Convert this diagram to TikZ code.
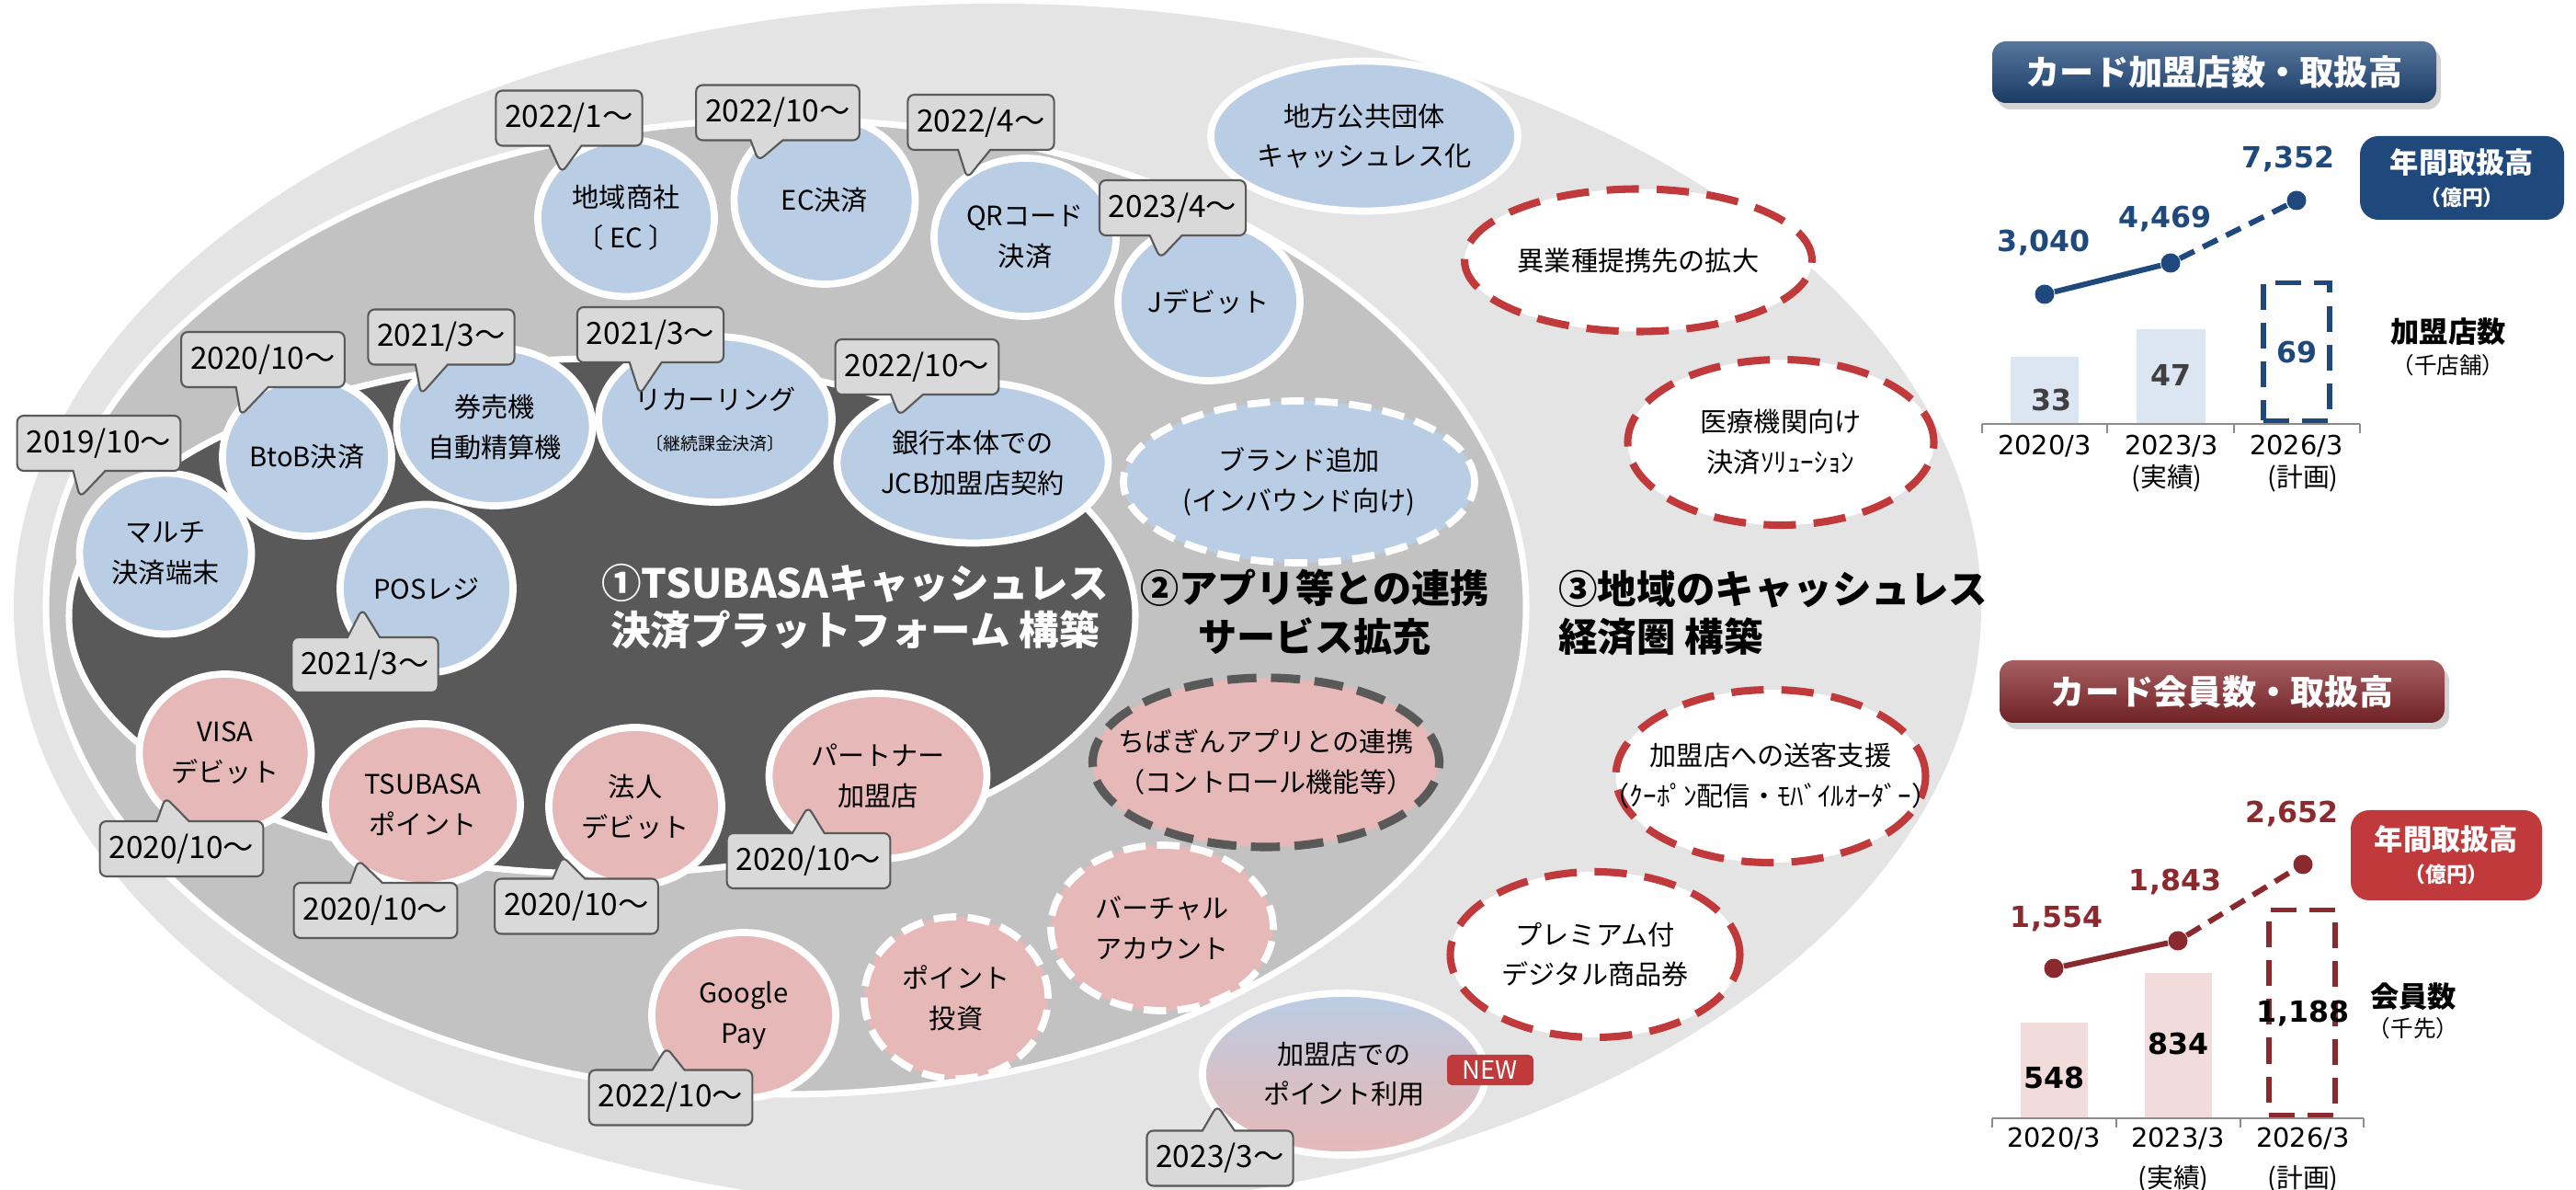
\documentclass[tikz,border=0pt]{standalone}
\usepackage{fontspec}
\setmainfont{Noto Sans CJK JP}
\newfontfamily\numfont{DejaVu Sans}
\usetikzlibrary{shapes.geometric,shapes.callouts,shadows}
\definecolor{ringlight}{HTML}{E4E4E4}
\definecolor{ringmid}{HTML}{C2C2C2}
\definecolor{ringdark}{HTML}{595959}
\definecolor{bubblue}{HTML}{B9CDE5}
\definecolor{bubpink}{HTML}{E6B9B8}
\definecolor{tagfill}{HTML}{D9D9D9}
\definecolor{tagline}{HTML}{595959}
\definecolor{zonered}{HTML}{C0393B}
\definecolor{chartblue}{HTML}{1F497D}
\definecolor{chartred}{HTML}{8B2A2E}
\definecolor{barblue}{HTML}{DCE6F2}
\definecolor{barpink}{HTML}{F2DCDB}
\definecolor{valgrey}{HTML}{404040}

\begin{document}
\begin{tikzpicture}[
  bubble/.style={ellipse,draw=white,line width=2.2pt,inner sep=0pt},
  bluebub/.style={bubble,fill=bubblue},
  pinkbub/.style={bubble,fill=bubpink},
  gapdash/.style={dash pattern=on 7pt off 3.5pt},
  zonebub/.style={ellipse,draw=zonered,fill=white,line width=2.3pt,
    dash pattern=on 10pt off 5.5pt,inner sep=0pt},
  bubtext/.style={align=center,font=\fontsize{8.3}{12.5}\selectfont,text=black},
  datetag/.style={rectangle callout,draw=tagline,fill=tagfill,line width=0.6pt,
    rounded corners=2pt,inner xsep=0.1cm,minimum height=0.6cm,
    callout pointer width=0.35cm,font=\fontsize{9.5}{11}\selectfont},
  headline/.style={font=\fontsize{12.4}{14.5}\selectfont\bfseries},
  charthead/.style={rounded corners=0.15cm,text=white,
    font=\fontsize{10.6}{12}\selectfont\bfseries,
    drop shadow={shadow xshift=0.05cm,shadow yshift=-0.07cm,opacity=0.35}},
  unitbox/.style={rounded corners=0.2cm,text=white,align=center,
    font=\fontsize{8.9}{10}\selectfont\bfseries},
  dotmark/.style={circle,inner sep=0pt,minimum size=0.21cm},
  trend/.style={line width=1.7pt},
  axisline/.style={draw=black!45,line width=0.8pt},
  valnum/.style={font=\numfont\bfseries\fontsize{9}{10}\selectfont},
  ticklab/.style={font=\numfont\fontsize{8.2}{10}\selectfont},
  subnote/.style={font=\fontsize{8.2}{10}\selectfont}
]
  \useasboundingbox (0,0) rectangle (28.02,-12.94);

  \fill[ringlight] (10.85,-6.60) ellipse [x radius=10.70,y radius=6.56];
  \filldraw[fill=ringmid,draw=white,line width=2pt] (8.55,-6.60)
    ellipse [x radius=8.05,y radius=5.30];
  \filldraw[fill=ringdark,draw=white,line width=2pt] (6.55,-6.70)
    ellipse [x radius=5.80,y radius=2.80];

  \node[bluebub,minimum width=1.92cm,minimum height=1.71cm,
    label={[bubtext]center:地域商社\\〔 EC 〕}] (chiiki) at (6.81,-2.37) {};
  \node[bluebub,minimum width=1.97cm,minimum height=1.82cm,
    label={[bubtext]center:EC決済}] (ecpay) at (8.97,-2.18) {};
  \node[bluebub,minimum width=1.98cm,minimum height=1.72cm,
    label={[bubtext]center:QRコード\\決済}] (qrpay) at (11.15,-2.58) {};
  \node[bluebub,minimum width=1.98cm,minimum height=1.72cm,
    label={[bubtext]center:Jデビット}] (jdebit) at (13.15,-3.28) {};
  \node[bluebub,minimum width=3.34cm,minimum height=1.63cm,
    label={[bubtext]center:地方公共団体\\キャッシュレス化}] (chiho) at (14.84,-1.48) {};
  \node[bluebub,minimum width=1.87cm,minimum height=1.75cm,
    label={[bubtext]center:マルチ\\決済端末}] (multi) at (1.80,-6.02) {};
  \node[bluebub,minimum width=1.84cm,minimum height=1.72cm,
    label={[bubtext]center:BtoB決済}] (btob) at (3.34,-4.97) {};
  \node[bluebub,minimum width=2.13cm,minimum height=1.72cm,
    label={[bubtext]center:券売機\\自動精算機}] (kenbai) at (5.38,-4.64) {};
  \node[bluebub,minimum width=2.54cm,minimum height=1.80cm,
    label={[bubtext]center:リカーリング\\{\fontsize{5.4}{7}\selectfont 〔継続課金決済〕}}]
    (recur) at (7.78,-4.56) {};
  \node[bluebub,minimum width=2.95cm,minimum height=1.75cm,
    label={[bubtext]center:銀行本体での\\JCB加盟店契約}] (jcb) at (10.58,-5.03) {};
  \node[bluebub,minimum width=1.88cm,minimum height=1.83cm,
    label={[bubtext]center:POSレジ}] (posreg) at (4.64,-6.40) {};
  \node[bluebub,gapdash,minimum width=3.82cm,minimum height=1.76cm,
    label={[bubtext]center:ブランド追加\\(インバウンド向け)}] (brand) at (14.13,-5.24) {};

  \node[pinkbub,minimum width=1.87cm,minimum height=1.72cm,
    label={[bubtext]center:VISA\\デビット}] (visa) at (2.45,-8.19) {};
  \node[pinkbub,minimum width=2.12cm,minimum height=1.76cm,
    label={[bubtext]center:TSUBASA\\ポイント}] (tpoint) at (4.60,-8.75) {};
  \node[pinkbub,minimum width=1.88cm,minimum height=1.72cm,
    label={[bubtext]center:法人\\デビット}] (hojin) at (6.91,-8.77) {};
  \node[pinkbub,minimum width=2.37cm,minimum height=1.80cm,
    label={[bubtext]center:パートナー\\加盟店}] (partner) at (9.55,-8.44) {};
  \node[pinkbub,draw=ringdark,line width=2.6pt,dash pattern=on 9pt off 4.5pt,
    minimum width=3.77cm,minimum height=1.84cm,
    label={[bubtext]center:ちばぎんアプリとの連携\\（コントロール機能等）}]
    (chibagin) at (13.77,-8.29) {};
  \node[pinkbub,gapdash,minimum width=2.42cm,minimum height=1.80cm,
    label={[bubtext]center:バーチャル\\アカウント}] (virtual) at (12.64,-10.09) {};
  \node[pinkbub,gapdash,minimum width=2.00cm,minimum height=1.76cm,
    label={[bubtext]center:ポイント\\投資}] (ptinvest) at (10.40,-10.85) {};
  \node[pinkbub,minimum width=2.00cm,minimum height=1.80cm,
    label={[bubtext]center:Google\\Pay}] (gpay) at (8.09,-11.04) {};
  \node[bubble,top color=bubblue,bottom color=bubpink,
    middle color=bubblue!40!bubpink,minimum width=3.08cm,minimum height=1.76cm,
    label={[bubtext]center:加盟店での\\ポイント利用}] (kamei) at (14.62,-11.68) {};
  \node[fill=zonered,text=white,rounded corners=1.5pt,inner sep=0pt,
    minimum width=0.94cm,minimum height=0.33cm,font=\fontsize{7.8}{9}\selectfont]
    (newmark) at (16.21,-11.635) {NEW};

  \node[zonebub,minimum width=3.78cm,minimum height=1.55cm,
    label={[bubtext]center:異業種提携先の拡大}] (igyo) at (17.82,-2.83) {};
  \node[zonebub,minimum width=3.33cm,minimum height=1.80cm,
    label={[bubtext]center:医療機関向け\\決済ｿﾘｭｰｼｮﾝ}] (iryo) at (19.37,-4.81) {};
  \node[zonebub,minimum width=3.37cm,minimum height=1.88cm,
    label={[bubtext]center:加盟店への送客支援\\（ｸｰﾎﾟﾝ配信・ﾓﾊﾞｲﾙｵｰﾀﾞｰ）}]
    (soukyaku) at (19.26,-8.44) {};
  \node[zonebub,minimum width=3.15cm,minimum height=1.80cm,
    label={[bubtext]center:プレミアム付\\デジタル商品券}] (premium) at (17.35,-10.38) {};

  \node[headline,text=white,align=center] (core) at (9.30,-6.595)
    {①TSUBASAキャッシュレス\\決済プラットフォーム 構築};
  \node[headline,font=\fontsize{12}{15}\selectfont\bfseries,align=center]
    (apps) at (14.30,-6.66) {②アプリ等との連携\\サービス拡充};
  \node[headline,font=\fontsize{12.1}{15}\selectfont\bfseries,align=left,
    anchor=west] (region) at (16.83,-6.665) {③地域のキャッシュレス\\経済圏 構築};

  \node[datetag,callout absolute pointer={(6.11,-1.88)}] (tg1) at (6.19,-1.285) {2022/1〜};
  \node[datetag,callout absolute pointer={(8.25,-1.75)}] (tg2) at (8.46,-1.225) {2022/10〜};
  \node[datetag,callout absolute pointer={(10.52,-1.94)}] (tg3) at (10.67,-1.33) {2022/4〜};
  \node[datetag,callout absolute pointer={(12.62,-2.81)}] (tg4) at (12.755,-2.26) {2023/4〜};
  \node[datetag,callout absolute pointer={(0.87,-5.41)}] (tg5) at (1.075,-4.82) {2019/10〜};
  \node[datetag,callout absolute pointer={(2.62,-4.52)}] (tg6) at (2.86,-3.91) {2020/10〜};
  \node[datetag,callout absolute pointer={(4.58,-4.29)}] (tg7) at (4.80,-3.665) {2021/3〜};
  \node[datetag,callout absolute pointer={(6.96,-4.29)}] (tg8) at (7.075,-3.64) {2021/3〜};
  \node[datetag,callout absolute pointer={(9.78,-4.52)}] (tg9) at (9.975,-3.99) {2022/10〜};
  \node[datetag,callout absolute pointer={(3.94,-6.62)}] (tg10) at (3.97,-7.23) {2021/3〜};
  \node[datetag,callout absolute pointer={(1.80,-8.67)}] (tg11) at (1.975,-9.23) {2020/10〜};
  \node[datetag,callout absolute pointer={(3.90,-9.35)}] (tg12) at (4.085,-9.90) {2020/10〜};
  \node[datetag,callout absolute pointer={(6.12,-9.31)}] (tg13) at (6.27,-9.855) {2020/10〜};
  \node[datetag,callout absolute pointer={(8.79,-8.77)}] (tg14) at (8.795,-9.36) {2020/10〜};
  \node[datetag,callout absolute pointer={(7.25,-11.39)}] (tg15) at (7.295,-11.935) {2022/10〜};
  \node[datetag,callout absolute pointer={(13.24,-12.02)}] (tg16) at (13.27,-12.595) {2023/3〜};

  \node[charthead,top color=chartblue!75!white,middle color=chartblue!95!white,
    bottom color=chartblue!80!black,minimum width=4.83cm,minimum height=0.67cm]
    (head1) at (24.085,-0.785) {カード加盟店数・取扱高};
  \node[unitbox,fill=chartblue,minimum width=2.22cm,minimum height=0.91cm]
    (unit1) at (26.78,-1.935) {年間取扱高\\{\fontsize{6.5}{8}\selectfont（億円）}};
  \node[fill=barblue,minimum width=0.74cm,minimum height=0.72cm,anchor=south]
    (ba1) at (22.24,-4.61) {};
  \node[fill=barblue,minimum width=0.75cm,minimum height=1.02cm,anchor=south]
    (ba2) at (23.615,-4.61) {};
  \node[draw=chartblue,fill=white,line width=1.5pt,dash pattern=on 8pt off 4pt,
    minimum width=0.72cm,minimum height=1.50cm,anchor=south] (ba3) at (24.98,-4.60) {};
  \draw[axisline] (21.56,-4.61) -- (25.67,-4.61);
  \foreach \tx in {21.56,22.92,24.30,25.67}
    \draw[axisline] (\tx,-4.61) -- (\tx,-4.71);
  \node[dotmark,fill=chartblue] (pa1) at (22.24,-3.20) {};
  \node[dotmark,fill=chartblue] (pa2) at (23.61,-2.86) {};
  \node[dotmark,fill=chartblue] (pa3) at (24.98,-2.18) {};
  \draw[trend,chartblue] (pa1) -- (pa2);
  \draw[trend,chartblue,dash pattern=on 5pt off 3pt] (pa2) -- (pa3);
  \node[valnum,text=chartblue] (la1) at (22.23,-2.64) {3,040};
  \node[valnum,text=chartblue] (la2) at (23.55,-2.38) {4,469};
  \node[valnum,text=chartblue] (la3) at (24.89,-1.73) {7,352};
  \node[valnum,text=valgrey] (na1) at (22.31,-4.35) {33};
  \node[valnum,text=valgrey] (na2) at (23.61,-4.08) {47};
  \node[valnum,text=chartblue] (na3) at (24.98,-3.83) {69};
  \node[ticklab] (xa1) at (22.24,-4.85) {2020/3};
  \node[ticklab] (xa2) at (23.62,-4.85) {2023/3};
  \node[ticklab] (xa3) at (24.98,-4.85) {2026/3};
  \node[subnote] (sa2) at (23.57,-5.20) {(実績)};
  \node[subnote] (sa3) at (25.05,-5.20) {(計画)};
  \node[font=\fontsize{8.9}{10}\selectfont\bfseries] (ka1) at (26.63,-3.61) {加盟店数};
  \node[font=\fontsize{7}{8}\selectfont] (ka2) at (26.63,-3.97) {（千店舗）};

  \node[charthead,top color=chartred!75!white,middle color=chartred!95!white,
    bottom color=chartred!80!black,minimum width=4.84cm,minimum height=0.68cm]
    (head2) at (24.17,-7.52) {カード会員数・取扱高};
  \node[unitbox,fill=zonered,minimum width=2.08cm,minimum height=0.98cm]
    (unit2) at (26.61,-9.30) {年間取扱高\\{\fontsize{6.5}{8}\selectfont（億円）}};
  \node[fill=barpink,minimum width=0.73cm,minimum height=1.03cm,anchor=south]
    (bb1) at (22.345,-12.16) {};
  \node[fill=barpink,minimum width=0.73cm,minimum height=1.57cm,anchor=south]
    (bb2) at (23.695,-12.16) {};
  \node[draw=chartred,fill=white,line width=1.5pt,dash pattern=on 8pt off 4pt,
    minimum width=0.72cm,minimum height=2.23cm,anchor=south] (bb3) at (25.04,-12.15) {};
  \draw[axisline] (21.67,-12.16) -- (25.71,-12.16);
  \foreach \tx in {21.67,23.02,24.37,25.71}
    \draw[axisline] (\tx,-12.16) -- (\tx,-12.26);
  \node[dotmark,fill=chartred] (pb1) at (22.34,-10.53) {};
  \node[dotmark,fill=chartred] (pb2) at (23.69,-10.23) {};
  \node[dotmark,fill=chartred] (pb3) at (25.05,-9.40) {};
  \draw[trend,chartred] (pb1) -- (pb2);
  \draw[trend,chartred,dash pattern=on 5pt off 3pt] (pb2) -- (pb3);
  \node[valnum,text=chartred] (lb1) at (22.37,-9.99) {1,554};
  \node[valnum,text=chartred] (lb2) at (23.66,-9.59) {1,843};
  \node[valnum,text=chartred] (lb3) at (24.93,-8.85) {2,652};
  \node[valnum] (nb1) at (22.34,-11.72) {548};
  \node[valnum] (nb2) at (23.69,-11.35) {834};
  \node[valnum] (nb3) at (25.05,-11.02) {1,188};
  \node[ticklab] (xb1) at (22.34,-12.38) {2020/3};
  \node[ticklab] (xb2) at (23.69,-12.38) {2023/3};
  \node[ticklab] (xb3) at (25.05,-12.38) {2026/3};
  \node[subnote] (sb2) at (23.64,-12.82) {(実績)};
  \node[subnote] (sb3) at (25.05,-12.82) {(計画)};
  \node[font=\fontsize{8.9}{10}\selectfont\bfseries] (kb1) at (26.25,-10.84) {会員数};
  \node[font=\fontsize{7}{8}\selectfont] (kb2) at (26.25,-11.18) {（千先）};
\end{tikzpicture}
\end{document}
